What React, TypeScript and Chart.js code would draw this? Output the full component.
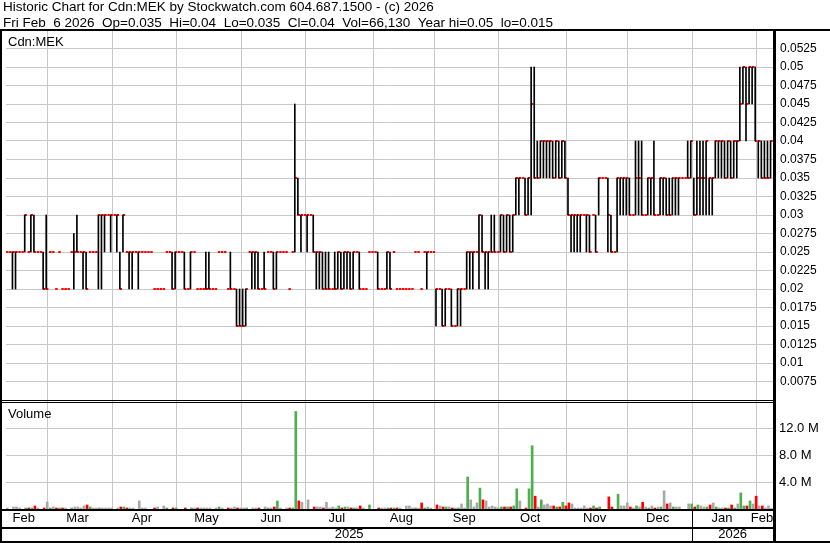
import React, { useEffect, useRef } from 'react';
import { Chart, registerables } from 'chart.js';

Chart.register(...registerables);

const FONT = 'Arial, "Liberation Sans", sans-serif';

const HEADER_1 = 'Historic Chart for Cdn:MEK by Stockwatch.com 604.687.1500 - (c) 2026';
const HEADER_2 = 'Fri Feb  6 2026  Op=0.035  Hi=0.04  Lo=0.035  Cl=0.04  Vol=66,130  Year hi=0.05  lo=0.015';
const SYMBOL_LABEL = 'Cdn:MEK';
const VOLUME_LABEL = 'Volume';

const MONTH_NAMES = ['Jan', 'Feb', 'Mar', 'Apr', 'May', 'Jun', 'Jul', 'Aug', 'Sep', 'Oct', 'Nov', 'Dec'];
const FIRST_DAY = [2025, 1, 10];
const HOLIDAYS = ['2025-02-17', '2025-04-18', '2025-05-19', '2025-07-01', '2025-08-04', '2025-09-01', '2025-10-13', '2025-12-25', '2025-12-26', '2026-01-01'];

const PRICE_TICKS = [0.0075, 0.01, 0.0125, 0.015, 0.0175, 0.02, 0.0225, 0.025, 0.0275, 0.03, 0.0325, 0.035, 0.0375, 0.04, 0.0425, 0.045, 0.0475, 0.05, 0.0525];
const VOLUME_TICKS = [4000000, 8000000, 12000000];

// daily highs (dollars)
const highs = [
  .025, .025, .025, .025, .025, .025, .030, .025, .030, .030,
  .025, .025, .025, .030, .025, .025, .020, .025, .020, .020,
  .020, .025, .0275, .030, .025, .025, .025, .025, .025, .025,
  .030, .030, .030, .030, .030, .030, .030, .025, .030, .025,
  .025, .025, .025, .025, .025, .025, .025, .025, .020, .020,
  .020, .020, .025, .025, .025, .025, .025, .025, .025, .020,
  .025, .025, .020, .020, .020, .025, .025, .020, .020, .025,
  .025, .025, .020, .025, .020, .020, .020, .020, .020, .025,
  .025, .025, .025, .020, .025, .025, .025, .025, .025, .025,
  .025, .025, .020, .025, .045, .035, .030, .030, .030, .030,
  .030, .025, .025, .025, .025, .025, .020, .025, .025, .025,
  .025, .025, .025, .025, .025, .025, .020, .020, .025, .025,
  .025, .025, .020, .020, .025, .025, .025, .020, .020, .020,
  .020, .020, .020, .025, .025, .020, .025, .025, .025, .025,
  .020, .020, .020, .020, .020, .020, .015, .020, .020, .020,
  .025, .025, .025, .025, .030, .030, .025, .025, .030, .030,
  .025, .030, .030, .030, .030, .030, .035, .035, .035, .035,
  .035, .050, .050, .040, .040, .040, .040, .040, .040, .040,
  .040, .040, .040, .035, .030, .030, .030, .030, .030, .030,
  .030, .030, .030, .035, .035, .035, .035, .030, .025, .035,
  .035, .035, .035, .035, .030, .040, .040, .040, .030, .035,
  .035, .040, .030, .035, .035, .035, .035, .035, .035, .035,
  .035, .035, .040, .040, .035, .040, .040, .040, .040, .035,
  .035, .040, .040, .040, .040, .040, .040, .040, .040, .050,
  .050, .050, .050, .050, .050, .040, .040, .040, .040, .040,
];

// daily lows (dollars)
const lows = [
  .025, .025, .020, .020, .025, .025, .025, .025, .025, .025,
  .025, .025, .020, .020, .025, .025, .020, .025, .020, .020,
  .020, .025, .020, .025, .025, .020, .020, .025, .025, .025,
  .020, .020, .025, .030, .025, .030, .025, .020, .025, .025,
  .020, .020, .025, .020, .025, .025, .025, .025, .020, .020,
  .020, .020, .025, .025, .020, .020, .025, .025, .020, .020,
  .020, .025, .020, .020, .020, .020, .020, .020, .020, .025,
  .025, .025, .020, .020, .020, .015, .015, .015, .015, .025,
  .020, .020, .020, .020, .020, .025, .025, .020, .020, .025,
  .025, .025, .020, .025, .025, .030, .025, .030, .025, .030,
  .025, .020, .020, .020, .020, .020, .020, .020, .020, .020,
  .020, .020, .020, .020, .025, .020, .020, .020, .025, .025,
  .025, .020, .020, .020, .020, .020, .025, .020, .020, .020,
  .020, .020, .020, .025, .025, .020, .025, .020, .025, .025,
  .015, .020, .015, .015, .020, .015, .015, .015, .015, .020,
  .020, .020, .020, .025, .020, .025, .020, .020, .025, .025,
  .025, .025, .025, .025, .025, .025, .030, .030, .035, .030,
  .030, .030, .035, .035, .035, .035, .035, .035, .035, .035,
  .035, .035, .035, .030, .025, .025, .025, .025, .030, .025,
  .025, .030, .025, .030, .035, .035, .025, .025, .025, .025,
  .030, .030, .030, .030, .030, .030, .030, .030, .030, .030,
  .030, .030, .030, .030, .030, .030, .030, .030, .030, .030,
  .035, .035, .035, .035, .030, .030, .030, .030, .030, .030,
  .030, .035, .035, .035, .035, .035, .035, .035, .035, .040,
  .045, .040, .045, .045, .040, .035, .035, .035, .035, .035,
];

// daily closes (dollars)
const closes = [
  .025, .025, .025, .025, .025, .025, .030, .025, .030, .025,
  .025, .025, .020, .020, .025, .025, .020, .025, .020, .020,
  .020, .025, .025, .025, .025, .025, .020, .025, .025, .025,
  .030, .030, .030, .030, .030, .030, .030, .020, .030, .025,
  .025, .025, .025, .025, .025, .025, .025, .025, .020, .020,
  .020, .020, .025, .025, .020, .025, .025, .025, .020, .020,
  .025, .025, .020, .020, .020, .020, .020, .020, .020, .025,
  .025, .025, .020, .020, .020, .015, .015, .015, .020, .025,
  .025, .025, .020, .020, .020, .025, .025, .020, .025, .025,
  .025, .025, .020, .025, .035, .030, .030, .030, .030, .030,
  .025, .025, .025, .020, .020, .020, .020, .020, .025, .020,
  .025, .025, .020, .025, .025, .020, .020, .020, .025, .025,
  .025, .020, .020, .020, .025, .020, .025, .020, .020, .020,
  .020, .020, .020, .025, .025, .020, .025, .025, .025, .025,
  .020, .020, .015, .020, .020, .015, .015, .020, .020, .020,
  .025, .025, .025, .025, .030, .025, .025, .025, .025, .025,
  .025, .030, .025, .030, .025, .030, .035, .035, .035, .030,
  .035, .045, .035, .035, .040, .040, .040, .040, .035, .040,
  .035, .040, .035, .030, .030, .030, .030, .030, .030, .030,
  .025, .030, .025, .035, .035, .035, .030, .025, .025, .035,
  .035, .035, .035, .030, .030, .035, .035, .030, .030, .035,
  .035, .030, .030, .035, .035, .030, .030, .035, .035, .035,
  .035, .035, .035, .040, .030, .035, .035, .035, .040, .035,
  .035, .040, .040, .040, .035, .040, .035, .040, .040, .045,
  .050, .045, .050, .050, .040, .040, .035, .035, .035, .040,
];

// daily volume (shares)
const volumes = [
  150000, 0, 300000, 300000, 150000, 0, 150000, 150000, 150000, 450000,
  150000, 0, 150000, 1040000, 150000, 300000, 150000, 150000, 150000, 150000,
  0, 150000, 300000, 300000, 150000, 450000, 600000, 300000, 150000, 150000,
  150000, 150000, 150000, 150000, 150000, 0, 150000, 300000, 300000, 150000,
  150000, 150000, 0, 1200000, 150000, 150000, 0, 0, 150000, 300000,
  0, 450000, 150000, 0, 150000, 150000, 0, 0, 150000, 0,
  150000, 150000, 150000, 150000, 150000, 150000, 150000, 0, 150000, 300000,
  150000, 0, 150000, 150000, 300000, 150000, 150000, 150000, 150000, 0,
  150000, 150000, 150000, 0, 300000, 150000, 150000, 300000, 1200000, 150000,
  0, 150000, 150000, 150000, 14500000, 1200000, 1000000, 0, 1350000, 0,
  300000, 300000, 300000, 150000, 1000000, 150000, 300000, 150000, 450000, 150000,
  300000, 300000, 150000, 150000, 150000, 450000, 150000, 0, 600000, 0,
  0, 150000, 150000, 150000, 150000, 150000, 150000, 150000, 150000, 0,
  450000, 450000, 150000, 150000, 150000, 900000, 150000, 300000, 150000, 0,
  600000, 450000, 300000, 300000, 300000, 150000, 150000, 150000, 750000, 150000,
  4750000, 1350000, 300000, 900000, 3100000, 1350000, 1200000, 300000, 450000, 300000,
  150000, 300000, 300000, 300000, 300000, 450000, 3000000, 1200000, 0, 150000,
  3000000, 9400000, 1900000, 300000, 1350000, 600000, 750000, 450000, 450000, 300000,
  300000, 1000000, 450000, 900000, 750000, 150000, 150000, 150000, 450000, 150000,
  150000, 450000, 150000, 300000, 0, 0, 1800000, 300000, 0, 2200000,
  450000, 450000, 900000, 300000, 150000, 450000, 300000, 1000000, 300000, 150000,
  450000, 150000, 300000, 300000, 2700000, 750000, 900000, 300000, 300000, 300000,
  0, 0, 750000, 750000, 300000, 600000, 450000, 300000, 300000, 600000,
  900000, 300000, 150000, 150000, 150000, 150000, 600000, 150000, 750000, 2400000,
  450000, 450000, 1200000, 750000, 1900000, 450000, 450000, 150000, 450000, 66130,
];

function tradingDates(n: number): Date[] {
  const out: Date[] = [];
  const d = new Date(Date.UTC(FIRST_DAY[0], FIRST_DAY[1], FIRST_DAY[2]));
  while (out.length < n) {
    const dow = d.getUTCDay();
    const iso = d.toISOString().slice(0, 10);
    if (dow !== 0 && dow !== 6 && !HOLIDAYS.includes(iso)) out.push(new Date(d.getTime()));
    d.setUTCDate(d.getUTCDate() + 1);
  }
  return out;
}

const X_MIN = -0.1;
const X_MAX = 249.8;

export default function App() {
  const ref = useRef<HTMLCanvasElement | null>(null);

  useEffect(() => {
    const canvas = ref.current;
    if (!canvas) return;
    const n = closes.length;
    const dates = tradingDates(n);

    const boundaries: number[] = [];
    const mids: number[] = [];
    const midLabels: string[] = [];
    let start = 0;
    for (let i = 1; i <= n; i++) {
      if (i === n || dates[i].getUTCMonth() !== dates[i - 1].getUTCMonth()) {
        mids.push((start + i - 1) / 2 - 0.8);
        midLabels.push(MONTH_NAMES[dates[start].getUTCMonth()]);
        if (i < n) boundaries.push(i - 0.5);
        start = i;
      }
    }
    const years: { year: number; from: number; to: number }[] = [];
    let ys = 0;
    for (let i = 1; i <= n; i++) {
      if (i === n || dates[i].getUTCFullYear() !== dates[i - 1].getUTCFullYear()) {
        years.push({ year: dates[ys].getUTCFullYear(), from: ys, to: i - 1 });
        ys = i;
      }
    }

    const rangeData: any[] = [];
    const closeData: any[] = [];
    const volData: any[] = [];
    const volColors: string[] = [];
    for (let i = 0; i < n; i++) {
      if (highs[i] > lows[i]) rangeData.push({ x: i, y: [lows[i], highs[i]] });
      closeData.push({ x: i + 0.32, y: closes[i] });
      if (volumes[i] > 0) {
        volData.push({ x: i + 0.32, y: volumes[i] });
        const prev = i > 0 ? closes[i - 1] : closes[i];
        volColors.push(closes[i] > prev + 1e-9 ? '#4caf50' : closes[i] < prev - 1e-9 ? '#ff0000' : '#a8a8a8');
      }
    }

    const framePlugin = {
      id: 'swFrame',
      afterDraw(chart: any) {
        const { ctx, chartArea: ca, scales } = chart;
        const W = chart.width;
        const H = chart.height;
        const xs = scales.x;
        ctx.save();
        ctx.fillStyle = '#ffffff';
        ctx.fillRect(ca.right + 2, ca.bottom + 2, W - ca.right - 2, H - ca.bottom - 2);
        ctx.fillStyle = '#000000';
        ctx.fillRect(0, 29, W, 2);
        ctx.fillRect(0, 29, 2, H - 29);
        ctx.fillRect(ca.right, 29, 3, H - 29);
        const pb = Math.round(scales.y.bottom);
        ctx.fillRect(0, pb, ca.right, 1);
        ctx.fillRect(0, pb + 2, ca.right, 1);
        ctx.fillRect(0, ca.bottom, ca.right, 2);
        ctx.fillRect(0, 527, ca.right, 2);
        ctx.fillRect(0, H - 2, W, 2);
        for (let k = 1; k < years.length; k++) {
          const px = Math.round(xs.getPixelForValue(years[k].from - 0.5));
          ctx.fillRect(px, ca.bottom, 1, H - ca.bottom);
        }
        ctx.font = '13.5px ' + FONT;
        ctx.textBaseline = 'alphabetic';
        ctx.textAlign = 'left';
        ctx.fillText(HEADER_1, 3, 11);
        ctx.fillText(HEADER_2, 3, 27);
        ctx.font = '13px ' + FONT;
        ctx.fillText(SYMBOL_LABEL, 8, 46);
        ctx.fillText(VOLUME_LABEL, 8, 418);
        ctx.textAlign = 'center';
        for (let k = 0; k < years.length; k++) {
          const left = k === 0 ? ca.left : xs.getPixelForValue(years[k].from - 0.5);
          const right = k === years.length - 1 ? ca.right : xs.getPixelForValue(years[k].to + 0.5);
          ctx.fillText(String(years[k].year), (left + right) / 2, 538);
        }
        ctx.restore();
      },
    };

    const chart = new Chart(canvas, {
      type: 'bar',
      data: {
        datasets: [
          {
            type: 'bar',
            data: rangeData,
            xAxisID: 'x',
            yAxisID: 'y',
            backgroundColor: '#000000',
            borderWidth: 0,
            barThickness: 1,
            grouped: false,
          } as any,
          {
            type: 'line',
            data: closeData,
            xAxisID: 'x',
            yAxisID: 'y',
            showLine: false,
            pointStyle: 'line',
            pointRadius: 1.2,
            pointBorderWidth: 2,
            pointBorderColor: '#ff0000',
            pointBackgroundColor: '#ff0000',
          } as any,
          {
            type: 'bar',
            data: volData,
            xAxisID: 'x',
            yAxisID: 'yv',
            backgroundColor: volColors,
            borderWidth: 0,
            barThickness: 2,
            grouped: false,
          } as any,
        ],
      },
      options: {
        responsive: false,
        maintainAspectRatio: false,
        devicePixelRatio: 1,
        animation: false,
        events: [],
        layout: { padding: { top: 30, left: 2, right: 0, bottom: 0 } },
        plugins: { legend: { display: false }, tooltip: { enabled: false }, title: { display: false } },
        scales: {
          x: {
            type: 'linear',
            position: 'bottom',
            min: X_MIN,
            max: X_MAX,
            offset: false,
            grid: { color: '#c8c8c8', lineWidth: 1, drawTicks: false, offset: false },
            border: { display: false },
            ticks: { display: false },
            afterBuildTicks: (axis: any) => { axis.ticks = boundaries.map((v) => ({ value: v })); },
            afterFit: (axis: any) => { axis.height = 0; },
          },
          xl: {
            type: 'linear',
            position: 'bottom',
            min: X_MIN,
            max: X_MAX,
            offset: false,
            grid: { display: false, drawTicks: false },
            border: { display: false },
            ticks: {
              autoSkip: false,
              maxRotation: 0,
              minRotation: 0,
              padding: 2,
              color: '#000000',
              font: { size: 13, family: FONT },
              callback: (_v: any, i: number) => midLabels[i],
            },
            afterBuildTicks: (axis: any) => { axis.ticks = mids.map((v) => ({ value: v })); },
            afterFit: (axis: any) => { axis.height = 34; },
          },
          y: {
            type: 'linear',
            position: 'right',
            stack: 'panels',
            stackWeight: 370,
            weight: 1,
            min: 0.005,
            max: 0.055,
            grid: { color: '#c8c8c8', lineWidth: 1, drawTicks: false },
            border: { display: false },
            ticks: {
              autoSkip: false,
              padding: 7,
              color: '#000000',
              font: { size: 12, family: FONT },
              callback: (v: any) => String(+Number(v).toFixed(4)),
            },
            afterBuildTicks: (axis: any) => { axis.ticks = PRICE_TICKS.map((v) => ({ value: v })); },
            afterFit: (axis: any) => { axis.width = 57; },
          },
          yv: {
            type: 'linear',
            position: 'right',
            stack: 'panels',
            stackWeight: 109,
            weight: 2,
            min: 0,
            max: 16200000,
            grid: { color: '#c8c8c8', lineWidth: 1, drawTicks: false },
            border: { display: false },
            ticks: {
              autoSkip: false,
              padding: 6,
              color: '#000000',
              font: { size: 13, family: FONT },
              callback: (v: any) => (Number(v) / 1e6).toFixed(1) + ' M',
            },
            afterBuildTicks: (axis: any) => { axis.ticks = VOLUME_TICKS.map((v) => ({ value: v })); },
            afterFit: (axis: any) => { axis.width = 57; },
          },
        },
      } as any,
      plugins: [framePlugin],
    });
    return () => chart.destroy();
  }, []);

  return (
    <div style={{ position: 'absolute', left: 0, top: 0, width: 830, height: 543, background: '#ffffff' }}>
      <canvas ref={ref} width={830} height={543} style={{ width: 830, height: 543, display: 'block' }} />
    </div>
  );
}
